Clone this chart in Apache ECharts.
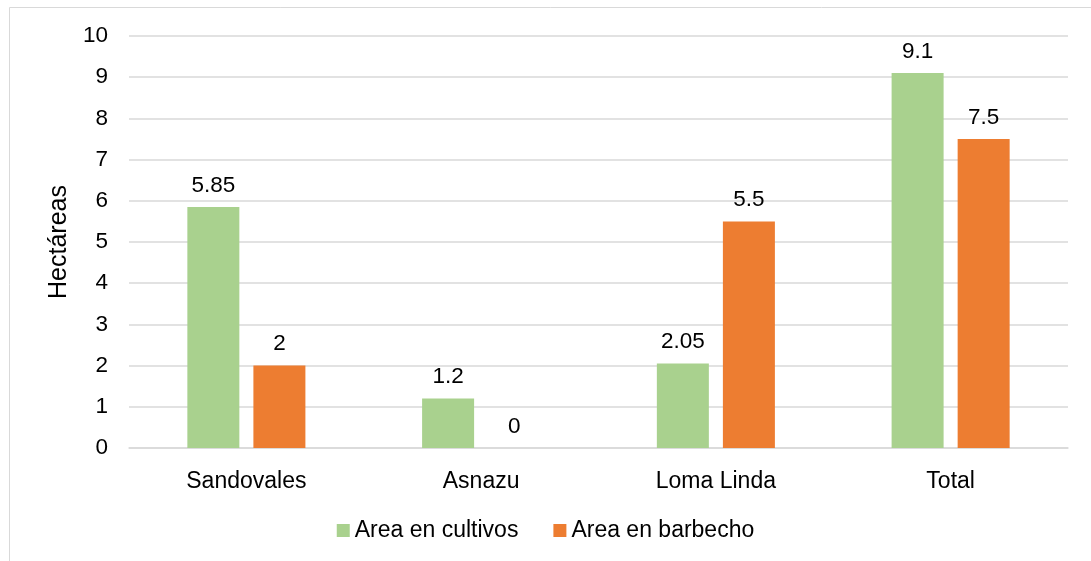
<!DOCTYPE html>
<html>
<head>
<meta charset="utf-8">
<script src="https://cdn.jsdelivr.net/npm/echarts@6/dist/echarts.min.js"></script>
<style>
  html, body { margin: 0; padding: 0; background: #fff; }
  #chart { width: 1091px; height: 561px; }
</style>
</head>
<body>
<div id="chart"></div>
<script>
var categories = ['Sandovales', 'Asnazu', 'Loma Linda', 'Total']
var cultivos = [5.85, 1.2, 2.05, 9.1]
var barbecho = [2, 0, 5.5, 7.5]
var yTicks = { min: 0, max: 10, interval: 1 }

var chart = echarts.init(document.getElementById('chart'))
var font = 'Liberation Sans, Arial, sans-serif'

chart.setOption({
  backgroundColor: '#ffffff',
  animation: false,
  // outer chart-area frame, only top and left edges visible in the picture
  graphic: [{
    type: 'rect',
    shape: { x: 9.5, y: 7.5, width: 1200, height: 700 },
    style: { fill: 'none', stroke: '#d9d9d9', lineWidth: 1 }
  }],
  grid: { left: 129, right: 23, top: 36, bottom: 113 },
  legend: {
    bottom: 14,
    left: 'center',
    itemWidth: 13,
    itemHeight: 13,
    itemGap: 35,
    icon: 'rect',
    textStyle: { fontFamily: font, fontSize: 23, color: '#000' },
    data: ['Area en cultivos', 'Area en barbecho']
  },
  xAxis: {
    type: 'category',
    data: categories,
    axisTick: { show: false },
    axisLine: { lineStyle: { color: '#d9d9d9', width: 1.5 } },
    axisLabel: { fontFamily: font, fontSize: 23, color: '#000', margin: 22 }
  },
  yAxis: {
    type: 'value',
    min: yTicks.min,
    max: yTicks.max,
    interval: yTicks.interval,
    name: 'Hectáreas',
    nameLocation: 'middle',
    nameGap: 52,
    nameTextStyle: { fontFamily: font, fontSize: 25, color: '#000' },
    axisLine: { show: false },
    axisTick: { show: false },
    axisLabel: { fontFamily: font, fontSize: 22.5, color: '#000', margin: 21 },
    splitLine: { lineStyle: { color: '#d9d9d9', width: 1.5 } }
  },
  series: [{
    name: 'Area en cultivos',
    type: 'bar',
    data: cultivos,
    barWidth: 52,
    barGap: '27%',
    itemStyle: { color: '#a9d18e' },
    label: { show: true, position: 'top', distance: 10, fontFamily: font, fontSize: 22.5, color: '#000' }
  }, {
    name: 'Area en barbecho',
    type: 'bar',
    data: barbecho,
    barWidth: 52,
    itemStyle: { color: '#ed7d31' },
    label: { show: true, position: 'top', distance: 10, fontFamily: font, fontSize: 22.5, color: '#000' }
  }]
})
</script>
</body>
</html>
